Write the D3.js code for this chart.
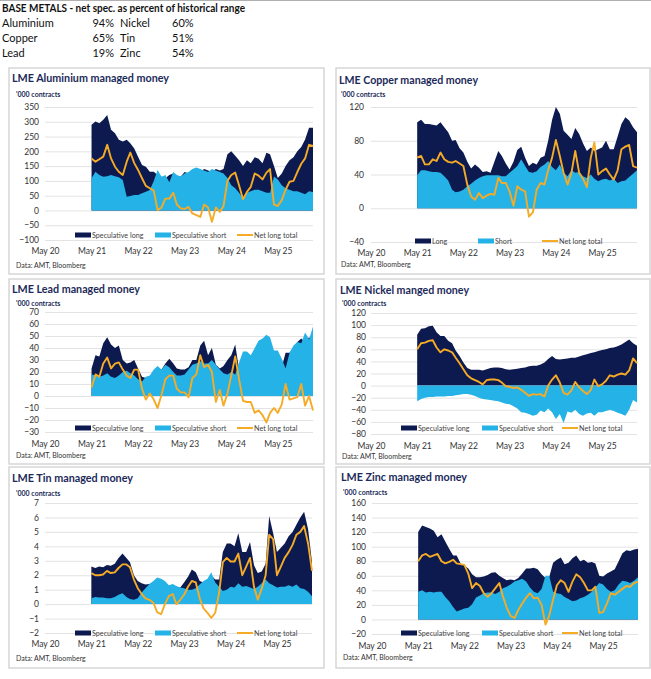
<!DOCTYPE html>
<html>
<head>
<meta charset="utf-8">
<script src="https://cdn.jsdelivr.net/npm/d3@7"></script>
<style>
  body { margin: 0; background: #fff; }
  svg { display: block; font-family: Lato, "Open Sans", sans-serif; }
</style>
</head>
<body>
<svg id="chart" width="651" height="679"></svg>
<script>
// Tabla de cabecera
const metalsLeft = ["Aluminium", "Copper", "Lead"];
const pctLeft = [94, 65, 19];
const metalsRight = ["Nickel", "Tin", "Zinc"];
const pctRight = [60, 51, 54];

// Meses: may-21 .. feb-26 (58 puntos)
const months = d3.timeMonth.range(new Date(2021, 4, 1), new Date(2026, 2, 1));
const yearTicks = [2020, 2021, 2022, 2023, 2024, 2025].map((y) => new Date(y, 4, 1));

// Aluminio ('000 contratos)
const alLong = [290,301,295,307,323,273,261,239,233,239,227,210,182,154,148,131,131,120,114,109,120,125,110,115,130,125,120,125,130,140,135,130,140,135,140,190,200,185,170,150,170,160,180,175,160,195,190,150,110,125,150,170,180,200,215,240,280,280];
const alShort = [109,131,120,114,116,120,116,112,103,46,49,52,52,58,63,69,100,137,114,120,95,130,120,115,125,130,140,145,140,135,130,140,135,130,125,110,85,75,60,40,60,65,70,70,65,60,60,115,105,85,75,70,65,65,60,55,65,62];
const alNet = [176,165,173,182,222,176,148,131,120,165,196,160,137,109,83,75,67,1,10,40,40,60,20,7,5,12,-10,-16,-22,20,10,-38,10,-5,15,100,120,128,85,38,63,80,125,118,105,128,140,20,15,35,70,97,100,130,158,176,222,218];

// Cobre
const cuLong = [102,105,100,100,99,98,102,96,90,80,81,71,66,55,47,52,48,43,44,42,55,68,62,53,46,55,69,73,60,50,54,52,60,62,80,105,120,112,92,87,82,95,88,77,68,72,68,70,72,80,70,70,85,100,108,104,96,90];
const cuShort = [39,45,45,44,43,43,42,38,33,22,19,20,22,26,29,33,36,38,39,39,39,39,38,38,42,46,50,58,50,43,42,44,49,52,56,49,45,52,42,38,45,42,43,38,36,40,35,32,34,35,33,35,30,32,33,37,41,45];
const cuNet = [60,62,52,52,58,56,66,58,55,54,56,53,50,28,14,10,18,12,15,17,16,36,30,30,20,3,26,22,20,-10,-5,22,30,28,45,60,81,62,42,28,42,68,42,35,25,60,78,40,44,47,40,34,45,70,73,75,50,48];

// Plomo
const pbLong = [23,34,33,44,49,43,40,42,30,27,28,30,23,16,15,14,17,19,22,27,31,27,23,22,22,24,30,30,42,46,34,40,26,23,25,30,34,43,22,30,30,25,25,28,28,28,30,28,25,24,36,36,40,45,48,45,49,46];
const pbShort = [18,17,16,17,19,16,15,17,20,21,19,17,14,12,16,17,22,25,22,26,24,20,17,17,18,22,26,27,29,27,27,30,26,22,19,18,20,18,28,37,37,34,40,46,48,51,49,38,38,31,23,36,42,45,44,53,47,58];
const pbNet = [7,18,16,27,32,23,27,28,22,17,15,22,22,6,-3,2,-3,-10,1,14,17,17,6,3,3,-1,15,18,34,24,26,20,-5,5,-8,2,17,33,14,-4,-5,-5,-14,-12,-16,-22,-14,-10,-14,-7,10,-3,-2,-1,10,-8,0,-12];

// Niquel (short en negativo)
const niLong = [84,94,95,98,99,88,82,82,74,70,58,49,38,29,26,26,26,25,27,29,30,30,29,27,26,27,28,29,30,32,33,33,35,38,44,49,44,43,44,45,46,46,48,50,52,54,55,57,59,60,62,63,65,68,72,76,70,66];
const niShort = [-26,-22,-20,-19,-19,-18,-18,-18,-17,-17,-16,-15,-14,-14,-15,-17,-20,-22,-23,-24,-25,-26,-28,-30,-31,-34,-38,-44,-45,-47,-50,-48,-41,-44,-38,-44,-55,-47,-62,-43,-45,-40,-47,-50,-46,-45,-50,-44,-44,-42,-40,-42,-45,-47,-50,-40,-24,-28];
const niNet = [60,70,71,74,75,63,55,60,58,55,46,37,27,17,12,9,6,2,9,10,10,9,5,-1,-2,-4,-3,-7,-12,-17,-14,-15,-14,-18,0,10,17,5,-12,-15,-8,6,-3,-9,-14,-7,10,-1,2,8,17,15,18,20,18,25,45,37];

// Estano
const snLong = [2.6,2.5,2.6,2.55,2.7,2.65,2.8,3.2,3.5,3.2,2.9,2.0,1.6,1.45,1.35,1.4,1.5,1.7,1.5,1.35,1.2,1.2,1.1,1.15,1.5,1.9,2.4,2.2,1.6,1.5,1.6,2.0,1.7,1.7,3.6,4.2,4.2,4.0,4.9,3.6,3.6,4.3,2.7,2.15,2.25,2.8,6.1,4.9,3.6,3.9,4.2,4.7,5.0,5.5,6.0,6.4,5.2,2.9];
const snShort = [0.4,0.5,0.45,0.45,0.4,0.4,0.5,0.65,0.75,0.5,0.35,0.3,0.4,0.8,1.1,1.4,1.6,1.85,1.75,1.6,1.3,1.4,1.25,1.15,1.1,1.0,1.0,1.1,1.35,1.6,1.75,2.2,1.5,1.2,0.9,1.0,1.2,1.15,1.45,1.2,1.25,1.15,1.05,1.2,1.45,1.7,1.45,1.3,1.15,1.2,1.2,1.3,1.2,1.35,1.1,1.05,0.85,0.55];
const snNet = [2.15,2.0,2.0,2.05,2.3,2.15,2.2,2.5,2.75,2.75,2.55,1.7,1.1,0.7,0.4,0.3,0.1,-0.55,-0.7,0.0,0.55,0.7,0.0,0.3,0.65,1.2,1.6,1.5,0.4,-0.3,-0.6,-0.95,-0.6,0.8,2.9,3.2,2.95,2.95,3.5,2.0,2.6,3.2,1.2,0.3,1.05,2.0,4.8,4.5,2.0,2.6,3.2,3.6,4.1,4.8,5.0,5.4,4.2,2.3];

// Zinc
const znLong = [120,129,127,125,122,113,117,107,97,88,88,77,74,70,62,58,58,59,61,64,65,60,57,54,55,54,57,63,70,70,71,69,62,57,58,78,82,85,76,78,84,88,80,82,78,79,77,60,59,63,66,69,80,91,95,94,96,97];
const znShort = [38,40,37,38,37,38,38,31,25,17,11,13,15,16,21,30,33,36,37,37,35,38,43,45,48,52,54,56,52,44,38,36,42,60,60,38,36,35,31,28,25,26,29,31,34,38,44,50,48,42,38,40,48,53,52,50,53,58];
const znNet = [80,88,90,86,88,90,80,77,79,82,77,76,75,63,43,50,46,36,31,36,43,50,32,16,5,2,13,22,30,36,29,30,20,-7,5,27,47,54,50,38,52,62,58,50,40,40,45,9,10,22,36,34,38,42,46,45,50,52];

const specLabels = ["Speculative long", "Speculative short", "Net long total"];
const copperLabels = ["Long", "Short", "Net long total"];

const colors = { long: "#0c1a50", short: "#25b2e6", net: "#f5ab26" };
const titleColor = "#1c2a5a";

const svg = d3.select("#chart");

// --------------------
// Cabecera
// --------------------
svg.append("line").attr("x1", 0).attr("x2", 651).attr("y1", 0.5).attr("y2", 0.5)
  .attr("stroke", "#b0b0b0");

svg.append("text").attr("x", 2).attr("y", 12)
  .attr("font-size", 10.6).attr("font-weight", "bold").attr("fill", "#111")
  .attr("textLength", 243).attr("lengthAdjust", "spacingAndGlyphs")
  .text("BASE METALS - net spec. as percent of historical range");

metalsLeft.forEach((m, i) => {
  const yy = 27 + i * 15;
  svg.append("text").attr("x", 2).attr("y", yy).attr("font-size", 11).attr("fill", "#111").text(m);
  svg.append("text").attr("x", 114).attr("y", yy).attr("font-size", 11).attr("fill", "#111")
    .attr("text-anchor", "end").text(pctLeft[i] + "%");
  svg.append("text").attr("x", 120).attr("y", yy).attr("font-size", 11).attr("fill", "#111").text(metalsRight[i]);
  svg.append("text").attr("x", 172).attr("y", yy).attr("font-size", 11).attr("fill", "#111").text(pctRight[i] + "%");
});

// --------------------
// Paneles
// --------------------
const panels = [
  { title: "LME Aluminium managed money", long: alLong, short: alShort, net: alNet, labels: specLabels,
    ticks: d3.range(-100, 351, 50), box: [9, 68, 315, 206], tx: 12, ty: 82, tw: 157, ux: 16, uy: 97,
    x0: 45, x1: 313, yTop: 107, yBot: 240, labX: 39, axY: 248, legY: 235, legX: [75, 155, 237], srcY: 268 },
  { title: "LME Copper managed money", long: cuLong, short: cuShort, net: cuNet, labels: copperLabels,
    ticks: d3.range(-40, 121, 40), box: [336, 68, 314, 206], tx: 339, ty: 84, tw: 139, ux: 341, uy: 97,
    x0: 371, x1: 637, yTop: 107, yBot: 242, labX: 364, axY: 250, legY: 241, legX: [415, 478, 542], srcY: 267 },
  { title: "LME Lead managed money", long: pbLong, short: pbShort, net: pbNet, labels: specLabels,
    ticks: d3.range(-30, 71, 10), box: [9, 279, 315, 185], tx: 12, ty: 293, tw: 128, ux: 16, uy: 306,
    x0: 45, x1: 313, yTop: 312, yBot: 432, labX: 39, axY: 441, legY: 428, legX: [75, 155, 237], srcY: 458 },
  { title: "LME Nickel manged money", long: niLong, short: niShort, net: niNet, labels: specLabels,
    ticks: d3.range(-80, 121, 20), box: [336, 279, 314, 185], tx: 340, ty: 294, tw: 129, ux: 342, uy: 306,
    x0: 371, x1: 637, yTop: 313, yBot: 434, labX: 366, axY: 443, legY: 428, legX: [401, 482, 562], srcY: 459 },
  { title: "LME Tin managed money", long: snLong, short: snShort, net: snNet, labels: specLabels,
    ticks: d3.range(-2, 7.1, 1), box: [9, 467, 315, 201], tx: 12, ty: 482, tw: 121, ux: 16, uy: 496,
    x0: 45, x1: 312, yTop: 503, yBot: 633, labX: 39, axY: 641, legY: 633, legX: [75, 155, 237], srcY: 661 },
  { title: "LME Zinc managed money", long: znLong, short: znShort, net: znNet, labels: specLabels,
    ticks: d3.range(-20, 161, 20), box: [336, 467, 314, 201], tx: 341, ty: 481, tw: 126, ux: 343, uy: 495,
    x0: 372, x1: 638, yTop: 503, yBot: 634, labX: 366, axY: 643, legY: 633, legX: [401, 482, 562], srcY: 660 },
];

panels.forEach(drawPanel);

function drawPanel(p) {
  const g = svg.append("g");

  g.append("rect")
    .attr("x", p.box[0]).attr("y", p.box[1])
    .attr("width", p.box[2]).attr("height", p.box[3])
    .attr("fill", "none").attr("stroke", "#d6d6d6").attr("stroke-width", 1.5);

  g.append("text").attr("x", p.tx).attr("y", p.ty)
    .attr("font-size", 11).attr("font-weight", "bold").attr("fill", titleColor)
    .attr("textLength", p.tw).attr("lengthAdjust", "spacingAndGlyphs")
    .text(p.title);

  g.append("text").attr("x", p.ux).attr("y", p.uy)
    .attr("font-size", 7).attr("font-weight", "bold").attr("fill", titleColor)
    .text("'000 contracts");

  const x = d3.scaleTime()
    .domain([new Date(2020, 4, 1), new Date(2026, 1, 1)])
    .range([p.x0, p.x1]);
  const y = d3.scaleLinear()
    .domain([d3.min(p.ticks), d3.max(p.ticks)])
    .range([p.yBot, p.yTop]);

  // eje y + lineas de grilla
  const yAxis = g.append("g")
    .attr("transform", `translate(${p.x0},0)`)
    .call(d3.axisLeft(y).tickValues(p.ticks).tickSize(-(p.x1 - p.x0)).tickPadding(p.x0 - p.labX));
  yAxis.select(".domain").remove();
  yAxis.selectAll("line").attr("stroke", "#dcdcdc").attr("stroke-width", 0.8);
  yAxis.selectAll("text").attr("font-size", 8.5).attr("fill", "#333").attr("font-family", "Lato, sans-serif");

  // eje x
  const xAxis = g.append("g")
    .attr("transform", `translate(0,${p.axY})`)
    .call(d3.axisBottom(x).tickValues(yearTicks).tickFormat(d3.timeFormat("%b %y")).tickSize(0).tickPadding(0));
  xAxis.select(".domain").remove();
  xAxis.selectAll("text").attr("font-size", 8.5).attr("fill", "#333").attr("font-family", "Lato, sans-serif");

  const rows = months.map((m, i) => ({ date: m, long: p.long[i], short: p.short[i], net: p.net[i] }));

  const area = (key) => d3.area()
    .x((d) => x(d.date))
    .y0(y(0))
    .y1((d) => y(d[key]));

  g.append("path").datum(rows).attr("d", area("long")).attr("fill", colors.long);
  g.append("path").datum(rows).attr("d", area("short")).attr("fill", colors.short);

  g.append("path").datum(rows)
    .attr("d", d3.line().x((d) => x(d.date)).y((d) => y(d.net)))
    .attr("fill", "none").attr("stroke", colors.net).attr("stroke-width", 1.9)
    .attr("stroke-linejoin", "round");

  // leyenda
  const legColors = [colors.long, colors.short, colors.net];
  p.labels.forEach((lab, i) => {
    const lx = p.legX[i];
    if (i < 2) {
      g.append("rect").attr("x", lx).attr("y", p.legY - 2.5).attr("width", 16).attr("height", 5)
        .attr("fill", legColors[i]);
    } else {
      g.append("line").attr("x1", lx).attr("x2", lx + 16).attr("y1", p.legY).attr("y2", p.legY)
        .attr("stroke", legColors[i]).attr("stroke-width", 2);
    }
    g.append("text").attr("x", lx + 17).attr("y", p.legY + 2.6)
      .attr("font-size", 7.2).attr("fill", "#444").text(lab);
  });

  g.append("text").attr("x", p.ux).attr("y", p.srcY)
    .attr("font-size", 7).attr("fill", "#333").text("Data: AMT, Bloomberg");
}
</script>
</body>
</html>
